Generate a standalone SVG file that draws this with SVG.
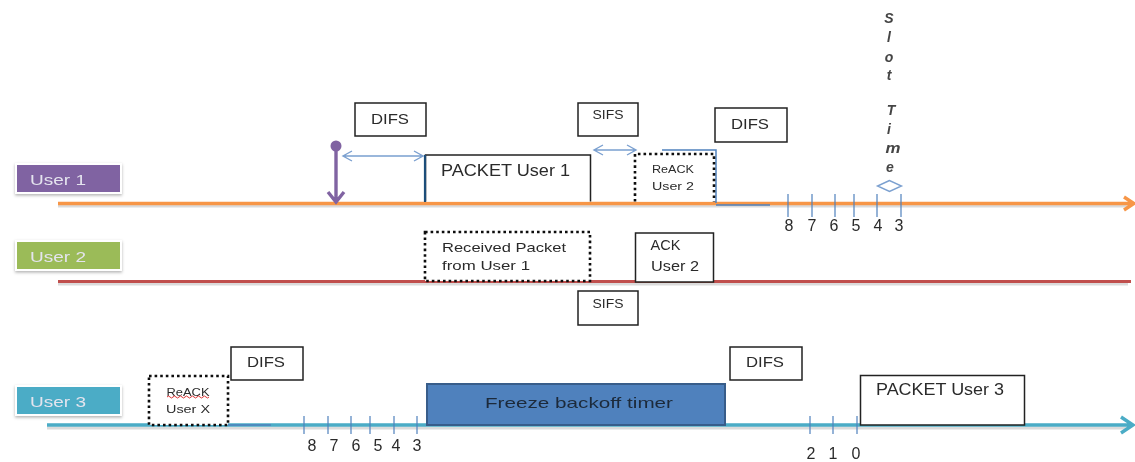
<svg xmlns="http://www.w3.org/2000/svg" width="1135" height="462" viewBox="0 0 1135 462">
<style>
text{font-family:"Liberation Sans",Arial,sans-serif;fill:#2b2b2b;font-size:15px;text-anchor:middle}
.box{fill:#fff;stroke:#222;stroke-width:1.5}
.dot{fill:#fff;stroke:#111;stroke-width:2.6;stroke-dasharray:2.6 3}
.tick{stroke:#4f81bd;stroke-width:1.2}
.arr{stroke:#7ba0d0;stroke-width:1.4;fill:none}
.lab{fill:#e4e4ee;font-size:15px;text-anchor:start}
.num{font-size:16px}
.slot{font-size:14px;font-weight:bold;font-style:italic;fill:#444}
.ln{fill:none;stroke-width:3.4}
.shd{fill:none;stroke:#000;stroke-opacity:.14;stroke-width:3}
.big{font-size:16px}
.mid{font-size:13.500px}
.sm{font-size:11px}
.si{font-size:13px}
</style>
<defs>
<filter id="sh" x="-10%" y="-20%" width="120%" height="150%"><feDropShadow dx="0" dy="1.5" stdDeviation="1.5" flood-color="#000" flood-opacity=".3"/></filter>
<filter id="soft" x="0" y="0" width="100%" height="100%" filterUnits="userSpaceOnUse"><feGaussianBlur stdDeviation=".35"/></filter>
</defs>
<g filter="url(#soft)">
<g id="connectors">
<path class="shd" d="M58 206H1128M58 284H1128M47 428H1128"/>
<path class="ln" stroke="#f79646" d="M58 203.500H1133M1124 197l10 6.500-10 6.500"/>
<path class="ln" stroke="#c0504d" d="M58 281.500H1131" style="stroke-width:3"/>
<path class="ln" stroke="#4bacc6" d="M47 425H1133M1121 417l12 8-12 8"/>
<path stroke="#4f81bd" stroke-width="1.500" fill="none" d="M662 150H716V203M716 205H770M228 425H271"/>
<path stroke="#8064a2" stroke-width="3.400" fill="none" d="M336 147V202M328 192l8 10 8-10"/>
<circle cx="336" cy="146" r="5.500" fill="#8064a2"/>
<path class="arr" d="M344 156H422M352 151l-9 5 9 5M414 151l9 5-9 5"/>
<path class="arr" d="M594 150H636M603 145l-9 5 9 5M627 145l9 5-9 5"/>
<path class="arr" d="M889.500 180.500l-12 5.500 12 5.500 12-5.500z"/>
<path class="tick" d="M788 194V217M812 194V217M835 194V217M854 194V217M877 194V217M901 194V217"/>
<path class="tick" d="M304 416V434M328 416V434M351 416V434M370 416V434M394 416V434M417 416V434M810 416V434M833 416V434M857 416V434"/>
</g>
<g id="user1"><rect x="16" y="164" width="105" height="29" fill="#8064a2" stroke="#fff" stroke-width="2" filter="url(#sh)"/><text class="lab" x="30" y="185" textLength="56" lengthAdjust="spacingAndGlyphs">User 1</text></g>
<g id="user2"><rect x="16" y="241" width="105" height="29" fill="#9bbb59" stroke="#fff" stroke-width="2" filter="url(#sh)"/><text class="lab" x="30" y="262" textLength="56" lengthAdjust="spacingAndGlyphs">User 2</text></g>
<g id="user3"><rect x="16" y="386" width="105" height="29" fill="#4bacc6" stroke="#fff" stroke-width="2" filter="url(#sh)"/><text class="lab" x="30" y="407" textLength="56" lengthAdjust="spacingAndGlyphs">User 3</text></g>
<g id="difs1"><rect class="box" x="355" y="103" width="71" height="33"/><text x="390" y="124" textLength="38" lengthAdjust="spacingAndGlyphs">DIFS</text></g>
<g id="packet1"><path class="box" d="M425.500 201.500V155H590.500V201.500"/><path stroke="#1f4e79" stroke-width="2.200" d="M425 155V202"/><text class="big" x="505.500" y="176" textLength="129" lengthAdjust="spacingAndGlyphs">PACKET User 1</text></g>
<g id="sifs1"><rect class="box" x="578" y="103" width="60" height="33"/><text class="si" x="608" y="119" textLength="31" lengthAdjust="spacingAndGlyphs">SIFS</text></g>
<g id="reack2"><path class="dot" d="M635 201.500V154H714V201.500"/><text class="sm" x="673" y="173" textLength="42" lengthAdjust="spacingAndGlyphs">ReACK</text><text class="sm" x="673" y="190" textLength="42" lengthAdjust="spacingAndGlyphs">User 2</text></g>
<g id="difs2"><rect class="box" x="715" y="108" width="72" height="34"/><text x="750" y="129" textLength="38" lengthAdjust="spacingAndGlyphs">DIFS</text></g>
<g id="slot">
<text class="slot" x="889" y="23">S</text><text class="slot" x="889" y="42">l</text><text class="slot" x="889" y="62">o</text><text class="slot" x="889" y="80">t</text><text class="slot" x="891" y="115">T</text><text class="slot" x="889" y="134">i</text><text class="slot" x="893" y="153" textLength="15" lengthAdjust="spacingAndGlyphs">m</text><text class="slot" x="890" y="172">e</text>
</g>
<g id="nums1"><text class="num" x="789" y="231">8</text><text class="num" x="812" y="231">7</text><text class="num" x="834" y="231">6</text><text class="num" x="856" y="231">5</text><text class="num" x="878" y="231">4</text><text class="num" x="899" y="231">3</text></g>
<g id="received"><rect class="dot" x="425" y="232" width="165" height="49"/><text class="mid" x="504" y="252" textLength="124" lengthAdjust="spacingAndGlyphs">Received Packet</text><text class="mid" x="486" y="270" textLength="88" lengthAdjust="spacingAndGlyphs">from User 1</text></g>
<g id="ack2"><rect class="box" x="635.500" y="233" width="78" height="49"/><text x="665.500" y="250" textLength="30" lengthAdjust="spacingAndGlyphs">ACK</text><text x="675" y="271" textLength="48" lengthAdjust="spacingAndGlyphs">User 2</text></g>
<g id="sifs2"><rect class="box" x="578" y="291" width="60" height="34"/><text class="si" x="608" y="308" textLength="31" lengthAdjust="spacingAndGlyphs">SIFS</text></g>
<g id="reackx"><rect class="dot" x="149" y="376" width="79" height="49"/><text class="sm" x="188" y="396" textLength="43" lengthAdjust="spacingAndGlyphs">ReACK</text><path fill="none" stroke="#d33" stroke-width="1" d="M167 397q1.500-2 3 0t3 0 3 0 3 0 3 0 3 0 3 0 3 0 3 0 3 0 3 0 3 0 3 0 3 0"/><text class="sm" x="188" y="413" textLength="44" lengthAdjust="spacingAndGlyphs">User X</text></g>
<g id="difs3"><rect class="box" x="231" y="347" width="72" height="33"/><text x="266" y="367" textLength="38" lengthAdjust="spacingAndGlyphs">DIFS</text></g>
<g id="nums3"><text class="num" x="312" y="451">8</text><text class="num" x="334" y="451">7</text><text class="num" x="356" y="451">6</text><text class="num" x="378" y="451">5</text><text class="num" x="396" y="451">4</text><text class="num" x="417" y="451">3</text></g>
<g id="freeze"><rect x="427" y="384" width="298" height="41" fill="#4f81bd" stroke="#385d8a" stroke-width="2"/><text x="579" y="408" textLength="188" lengthAdjust="spacingAndGlyphs" style="fill:#1d2a3a">Freeze backoff timer</text></g>
<g id="difs4"><rect class="box" x="730" y="347" width="72" height="33"/><text x="765" y="367" textLength="38" lengthAdjust="spacingAndGlyphs">DIFS</text></g>
<g id="nums4"><text class="num" x="811" y="459">2</text><text class="num" x="833" y="459">1</text><text class="num" x="856" y="459">0</text></g>
<g id="packet3"><rect class="box" x="860.500" y="375.500" width="164" height="49.500"/><text class="big" x="940" y="395" textLength="128" lengthAdjust="spacingAndGlyphs">PACKET User 3</text></g>
</g>
</svg>
